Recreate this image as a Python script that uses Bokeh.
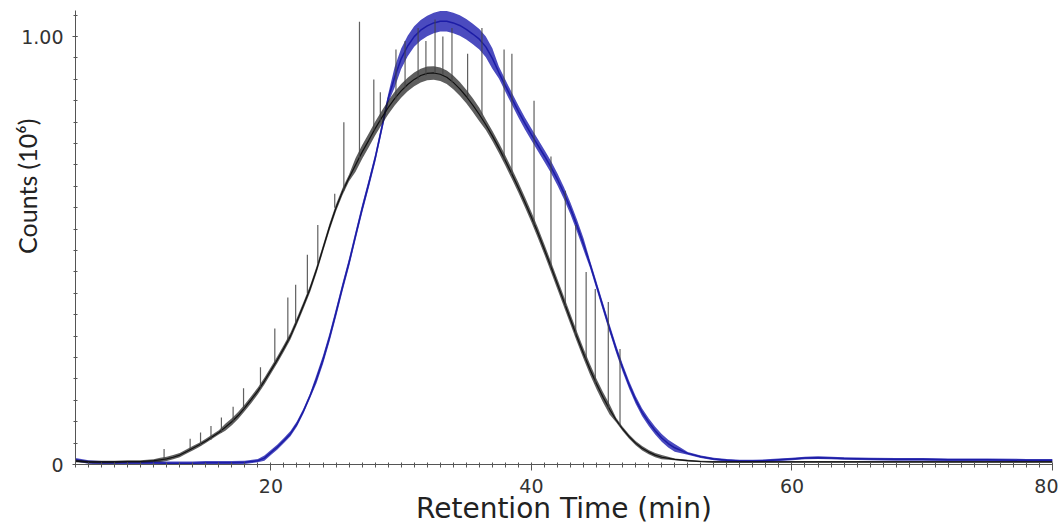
from bokeh.plotting import figure
from bokeh.models import FixedTicker, Range1d, ColumnDataSource
from bokeh.embed import file_html
from bokeh.resources import INLINE

# ---------------- data ----------------
x_tick_values = [20, 40, 60, 80]
y_tick_values = [0, 1]
y_tick_labels = {0: "0", 1: "1.00"}
x_title = "Retention Time (min)"
y_title = "Counts (10\u2076)"

blue_time = [5, 6, 7, 8, 9, 10, 11, 12, 13, 14, 15, 16, 17, 18, 19,
             19.5, 20, 20.5, 21, 21.5, 22, 22.5, 23, 23.5, 24,
             24.5, 25, 25.5, 26, 26.5, 27, 27.5, 28, 28.5, 29,
             29.5, 30, 30.5, 31, 31.5, 32, 32.5, 33, 33.5, 34,
             34.5, 35, 35.5, 36, 36.5, 37, 37.5, 38, 38.5, 39,
             39.5, 40, 40.5, 41, 41.5, 42, 42.5, 43, 43.5, 44,
             44.5, 45, 45.5, 46, 46.5, 47, 47.5, 48, 48.5, 49,
             49.5, 50, 50.5, 51,
             52, 53, 54, 55, 56, 57, 58, 59, 60, 61, 62, 63, 64,
             66, 68, 70, 72, 75, 78, 80]
blue_counts = [0.011, 0.006, 0.004, 0.004, 0.004, 0.004, 0.004, 0.003, 0.003, 0.003, 0.004, 0.004, 0.004, 0.005, 0.009,
               0.015, 0.028, 0.041, 0.056, 0.072, 0.095, 0.125, 0.16, 0.2, 0.245,
               0.297, 0.355, 0.415, 0.472, 0.535, 0.597, 0.655, 0.715, 0.785, 0.855,
               0.905, 0.948, 0.978, 1.0, 1.015, 1.025, 1.032, 1.036, 1.036, 1.032,
               1.026, 1.017, 1.006, 0.994, 0.976, 0.949, 0.916, 0.885, 0.855, 0.825,
               0.797, 0.771, 0.746, 0.721, 0.695, 0.666, 0.634, 0.598, 0.558, 0.515,
               0.468, 0.418, 0.368, 0.318, 0.27, 0.226, 0.186, 0.151, 0.122, 0.099,
               0.079, 0.062, 0.049, 0.039,
               0.026, 0.018, 0.013, 0.01, 0.008, 0.008, 0.009, 0.011, 0.013, 0.015, 0.016, 0.015, 0.014,
               0.013, 0.012, 0.012, 0.011, 0.011, 0.01, 0.01]
blue_noise = [0.004] * 15 + [0.006] * 8 + [0.01] * 12 + [0.024] * 16 + [0.014] * 14 + [0.009] * 14 + [0.003] * 20

black_time = [5, 6, 7, 8, 9, 10, 11,
              11.5, 12, 12.5, 13, 13.5, 14, 14.5, 15, 15.5, 16,
              16.5, 17, 17.5, 18, 18.5, 19, 19.5, 20, 20.5, 21,
              21.5, 22, 22.5, 23, 23.5, 24, 24.5, 25, 25.5, 26,
              26.5, 27, 27.5, 28, 28.5, 29, 29.5, 30, 30.5, 31,
              31.5, 32, 32.5, 33, 33.5, 34, 34.5, 35, 35.5, 36,
              36.5, 37, 37.5, 38, 38.5, 39, 39.5, 40, 40.5, 41,
              41.5, 42, 42.5, 43, 43.5, 44, 44.5, 45, 45.5, 46,
              46.5, 47, 47.5, 48, 48.5, 49, 49.5, 50,
              51, 52, 53, 54, 55, 56, 58, 60, 65, 70, 75, 80]
black_counts = [0.008, 0.006, 0.006, 0.006, 0.007, 0.007, 0.009,
                0.011, 0.013, 0.017, 0.022, 0.03, 0.038, 0.046, 0.055, 0.065, 0.075,
                0.087, 0.1, 0.115, 0.133, 0.152, 0.172, 0.195, 0.22, 0.245, 0.272,
                0.3, 0.335, 0.372, 0.41, 0.455, 0.505, 0.555, 0.6, 0.638, 0.67,
                0.7, 0.73, 0.757, 0.785, 0.81, 0.834, 0.855, 0.873, 0.888, 0.9,
                0.909, 0.914, 0.915, 0.912, 0.905, 0.893, 0.878, 0.86, 0.84, 0.818,
                0.794, 0.768, 0.74, 0.71, 0.679, 0.647, 0.613, 0.578, 0.541, 0.502,
                0.462, 0.421, 0.38, 0.339, 0.298, 0.259, 0.222, 0.188, 0.157, 0.129,
                0.104, 0.083, 0.065, 0.05, 0.038, 0.029, 0.022, 0.017,
                0.012, 0.009, 0.007, 0.006, 0.006, 0.006, 0.006, 0.006, 0.006, 0.006, 0.006, 0.006]
black_noise = [0.003] * 7 + [0.005] * 10 + [0.008] * 20 + [0.016] * 20 + [0.012] * 20 + [0.005] * 8 + [0.002] * 12

spike_time = [11.8, 13.8, 14.6, 15.4, 16.2, 17.1, 17.9, 19.2, 20.3, 21.3, 21.9, 22.8, 23.6, 24.9,
              25.6, 26.8, 27.9, 28.4, 29.6, 30.3, 31.3, 31.9, 32.6, 33.2, 33.9, 35.1, 36.2,
              37.9, 38.5, 40.2, 41.5, 42.6, 43.4, 44.2, 44.9, 45.9, 46.8]
spike_base = [0.012, 0.036, 0.044, 0.058, 0.075, 0.1, 0.13, 0.18, 0.24, 0.29, 0.33, 0.4, 0.47, 0.6,
              0.64, 0.715, 0.78, 0.8, 0.853, 0.88, 0.9, 0.909, 0.915, 0.91, 0.893, 0.858, 0.818,
              0.71, 0.679, 0.56, 0.46, 0.37, 0.3, 0.245, 0.19, 0.13, 0.09]
spike_top = [0.036, 0.06, 0.075, 0.09, 0.11, 0.135, 0.178, 0.227, 0.318, 0.39, 0.42, 0.49, 0.56, 0.633,
             0.80, 1.035, 0.9, 0.87, 0.97, 0.99, 1.02, 0.99, 1.04, 1.0, 1.02, 0.96, 1.02,
             0.97, 0.96, 0.85, 0.72, 0.64, 0.56, 0.45, 0.41, 0.38, 0.27]

# ---------------- figure ----------------
p = figure(width=1058, height=527, output_backend="svg", toolbar_location=None,
           x_range=Range1d(5, 80), y_range=Range1d(0, 1.061),
           min_border_left=75, min_border_right=6, min_border_top=10, min_border_bottom=63)
p.outline_line_color = None
p.grid.visible = False
p.background_fill_color = "white"
p.border_fill_color = "white"

blue_src = ColumnDataSource(dict(
    t=blue_time, y=blue_counts,
    lo=[c - n for c, n in zip(blue_counts, blue_noise)],
    hi=[c + n for c, n in zip(blue_counts, blue_noise)]))
black_src = ColumnDataSource(dict(
    t=black_time, y=black_counts,
    lo=[c - n for c, n in zip(black_counts, black_noise)],
    hi=[c + n for c, n in zip(black_counts, black_noise)]))

p.varea(x="t", y1="lo", y2="hi", source=blue_src, fill_color="#2c2cb4", fill_alpha=0.85)
p.line(x="t", y="y", source=blue_src, line_color="#1c1ca6", line_width=1.5)

p.varea(x="t", y1="lo", y2="hi", source=black_src, fill_color="#1a1a1a", fill_alpha=0.7)
p.line(x="t", y="y", source=black_src, line_color="#111111", line_width=1.2)
p.segment(x0=spike_time, y0=spike_base, x1=spike_time, y1=spike_top,
          line_color="#444444", line_width=1.2, line_alpha=0.85)

# ---------------- axes ----------------
xax = p.xaxis[0]
xax.ticker = FixedTicker(ticks=x_tick_values, minor_ticks=list(range(5, 81)))
xax.axis_line_color = "#555555"
xax.major_tick_line_color = "#555555"
xax.minor_tick_line_color = "#555555"
xax.major_tick_out = 6
xax.major_tick_in = 0
xax.minor_tick_out = 3
xax.minor_tick_in = 2
xax.major_label_standoff = 8
xax.major_label_text_font = "DejaVu Sans"
xax.major_label_text_font_size = "19px"
xax.major_label_text_color = "#333333"
xax.axis_label = x_title
xax.axis_label_text_font = "DejaVu Sans"
xax.axis_label_text_font_size = "28px"
xax.axis_label_text_font_style = "normal"
xax.axis_label_text_color = "#222222"
xax.axis_label_standoff = -4

yax = p.yaxis[0]
yax.ticker = FixedTicker(ticks=y_tick_values, minor_ticks=[i * 0.05 for i in range(0, 22)])
yax.major_label_overrides = y_tick_labels
yax.axis_line_color = "#555555"
yax.major_tick_line_color = "#555555"
yax.minor_tick_line_color = "#555555"
yax.major_tick_out = 3
yax.major_tick_in = 2
yax.minor_tick_out = 2
yax.minor_tick_in = 2
yax.major_label_standoff = 9
yax.major_label_text_font = "DejaVu Sans"
yax.major_label_text_font_size = "19px"
yax.major_label_text_color = "#333333"
# non-breaking spaces lift the label towards the upper half, as in the original
yax.axis_label = "\u00a0" * 16 + y_title
yax.axis_label_text_font = "Lato"
yax.axis_label_text_font_size = "25px"
yax.axis_label_text_font_style = "normal"
yax.axis_label_text_color = "#222222"
yax.axis_label_standoff = -24

open("out.html", "w").write(file_html(p, INLINE))
